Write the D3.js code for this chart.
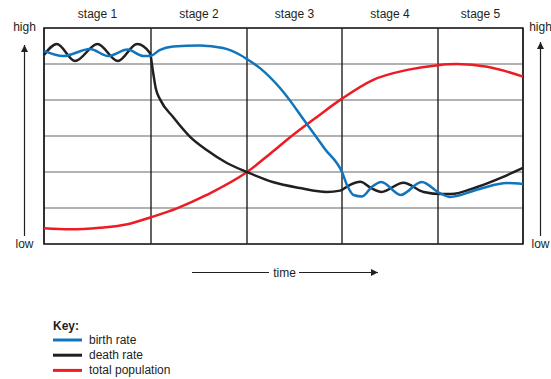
<!DOCTYPE html>
<html>
<head>
<meta charset="utf-8">
<script src="https://cdn.jsdelivr.net/npm/d3@7"></script>
<style>
  body { margin: 0; background: #fff; }
  svg text { font-family: 'Liberation Sans', Arial, sans-serif; fill: #231f20; }
</style>
</head>
<body>
<div id="chart"></div>
<script>
// stage labels and the time value where each stage starts/ends
const stages = ['stage 1', 'stage 2', 'stage 3', 'stage 4', 'stage 5'];
const stageBounds = [0, 1, 2, 3, 4, 5];

// level 0 = low, 100 = high, 6 bands in between
const levelTicks = d3.range(0, 7).map(i => i * 100 / 6);

// [time (in stages), level]
const birthRate = [
  [0, 89.4], [0.18, 87.0], [0.43, 90.3], [0.6, 87.0], [0.78, 90.0], [0.93, 87.0],
  [1.0, 87.2], [1.09, 89.8], [1.23, 91.4], [1.51, 91.9], [1.75, 90.7], [1.93, 87.5],
  [2.0, 85.6], [2.14, 81.3], [2.35, 72.1], [2.63, 55.6], [2.82, 44.0],
  [3.0, 33.3], [3.06, 26.5], [3.12, 22.7], [3.21, 22.0], [3.31, 26.4], [3.41, 28.7],
  [3.61, 22.7], [3.83, 28.7], [4.02, 23.6], [4.14, 21.8], [4.49, 25.5], [4.81, 28.2],
  [5.0, 27.8]
];

const deathRate = [
  [0, 87.5], [0.12, 92.6], [0.29, 84.7], [0.5, 92.6], [0.69, 84.7], [0.87, 92.6],
  [0.99, 88.4], [1.02, 80.0], [1.05, 72.0], [1.1, 66.5], [1.23, 58.8], [1.41, 49.5],
  [1.58, 43.5], [1.79, 37.5], [2.0, 33.3], [2.27, 28.7], [2.56, 25.9], [2.84, 24.1],
  [2.98, 24.7], [3.08, 27.3], [3.19, 28.8], [3.31, 25.7], [3.41, 24.1], [3.64, 28.4],
  [3.85, 24.1], [4.05, 23.1], [4.15, 23.1], [4.46, 26.4], [4.76, 31.0], [5.0, 35.2]
];

const totalPopulation = [
  [0, 7.3], [0.24, 6.8], [0.52, 7.5], [0.78, 9.1], [1.0, 12.4], [1.27, 16.5],
  [1.58, 22.7], [2.0, 33.3], [2.25, 42.0], [2.47, 50.0], [2.75, 59.3], [3.0, 67.3],
  [3.32, 75.9], [3.68, 80.6], [4.0, 82.8], [4.22, 83.3], [4.58, 82.1], [5.0, 77.5]
];

const keyItems = ['birth rate', 'death rate', 'total population'];
const colors = ['#1075bc', '#231f20', '#ed1c24'];

const width = 551;
const height = 379;

const svg = d3.select('#chart')
  .append('svg')
  .attr('width', width)
  .attr('height', height);

const xScale = d3.scaleLinear()
  .domain(stageBounds)
  .range([44, 151, 247, 342, 438, 523]);

const yScale = d3.scaleLinear()
  .domain([0, 100])
  .range([244, 28]);

// arrow marker
svg.append('defs')
  .append('marker')
  .attr('id', 'arrow')
  .attr('viewBox', '0 0 10 10')
  .attr('refX', 10)
  .attr('refY', 5)
  .attr('markerUnits', 'userSpaceOnUse')
  .attr('markerWidth', 10)
  .attr('markerHeight', 7)
  .attr('orient', 'auto')
  .append('path')
  .attr('d', 'M0,0L10,5L0,10Z')
  .attr('fill', '#231f20');

// horizontal grid lines
svg.append('g')
  .selectAll('line')
  .data(levelTicks)
  .join('line')
  .attr('x1', xScale(0))
  .attr('x2', xScale(5))
  .attr('y1', d => yScale(d))
  .attr('y2', d => yScale(d))
  .attr('stroke', '#666')
  .attr('stroke-width', 1.2);

// vertical stage lines
svg.append('g')
  .selectAll('line')
  .data(stageBounds)
  .join('line')
  .attr('x1', d => xScale(d))
  .attr('x2', d => xScale(d))
  .attr('y1', yScale(100))
  .attr('y2', yScale(0))
  .attr('stroke', '#231f20')
  .attr('stroke-width', 1.4);

// frame
svg.append('rect')
  .attr('x', xScale(0))
  .attr('y', yScale(100))
  .attr('width', xScale(5) - xScale(0))
  .attr('height', yScale(0) - yScale(100))
  .attr('fill', 'none')
  .attr('stroke', '#231f20')
  .attr('stroke-width', 1.5);

// stage labels
svg.append('g')
  .selectAll('text')
  .data(stages)
  .join('text')
  .attr('x', (d, i) => (xScale(i) + xScale(i + 1)) / 2)
  .attr('y', 18)
  .attr('text-anchor', 'middle')
  .style('font-size', '12px')
  .text(d => d);

// curves
const line = d3.line()
  .x(d => xScale(d[0]))
  .y(d => yScale(d[1]))
  .curve(d3.curveMonotoneX);

const series = [totalPopulation, deathRate, birthRate];
const seriesColors = [colors[2], colors[1], colors[0]];

svg.append('g')
  .selectAll('path')
  .data(series)
  .join('path')
  .attr('d', line)
  .attr('fill', 'none')
  .attr('stroke', (d, i) => seriesColors[i])
  .attr('stroke-width', 2.5)
  .attr('stroke-linejoin', 'round');

// high / low labels and arrows on both sides
[[24.5, 45], [540.5, 42]].forEach(([x, tip]) => {
  svg.append('line')
    .attr('x1', x).attr('x2', x)
    .attr('y1', 236).attr('y2', tip)
    .attr('stroke', '#231f20')
    .attr('stroke-width', 1.2)
    .attr('marker-end', 'url(#arrow)');
  svg.append('text')
    .attr('x', x)
    .attr('y', 31)
    .attr('text-anchor', 'middle')
    .style('font-size', '12px')
    .text('high');
  svg.append('text')
    .attr('x', x)
    .attr('y', 248)
    .attr('text-anchor', 'middle')
    .style('font-size', '12px')
    .text('low');
});

// time arrow
svg.append('line')
  .attr('x1', 192).attr('x2', 269)
  .attr('y1', 272.5).attr('y2', 272.5)
  .attr('stroke', '#231f20')
  .attr('stroke-width', 1);
svg.append('line')
  .attr('x1', 299).attr('x2', 378)
  .attr('y1', 272.5).attr('y2', 272.5)
  .attr('stroke', '#231f20')
  .attr('stroke-width', 1)
  .attr('marker-end', 'url(#arrow)');
svg.append('text')
  .attr('x', 284.5)
  .attr('y', 276.5)
  .attr('text-anchor', 'middle')
  .style('font-size', '12px')
  .text('time');

// key
const key = svg.append('g').attr('transform', 'translate(53, 0)');
key.append('text')
  .attr('x', 0)
  .attr('y', 330)
  .style('font-size', '12px')
  .style('font-weight', 'bold')
  .text('Key:');

const keyRows = key.selectAll('g.row')
  .data(keyItems)
  .join('g')
  .attr('class', 'row')
  .attr('transform', (d, i) => `translate(0, ${340 + i * 15.2})`);

keyRows.append('line')
  .attr('x1', 0).attr('x2', 29)
  .attr('stroke', (d, i) => colors[i])
  .attr('stroke-width', 3);

keyRows.append('text')
  .attr('x', 36)
  .attr('y', 4)
  .style('font-size', '12px')
  .text(d => d);
</script>
</body>
</html>
